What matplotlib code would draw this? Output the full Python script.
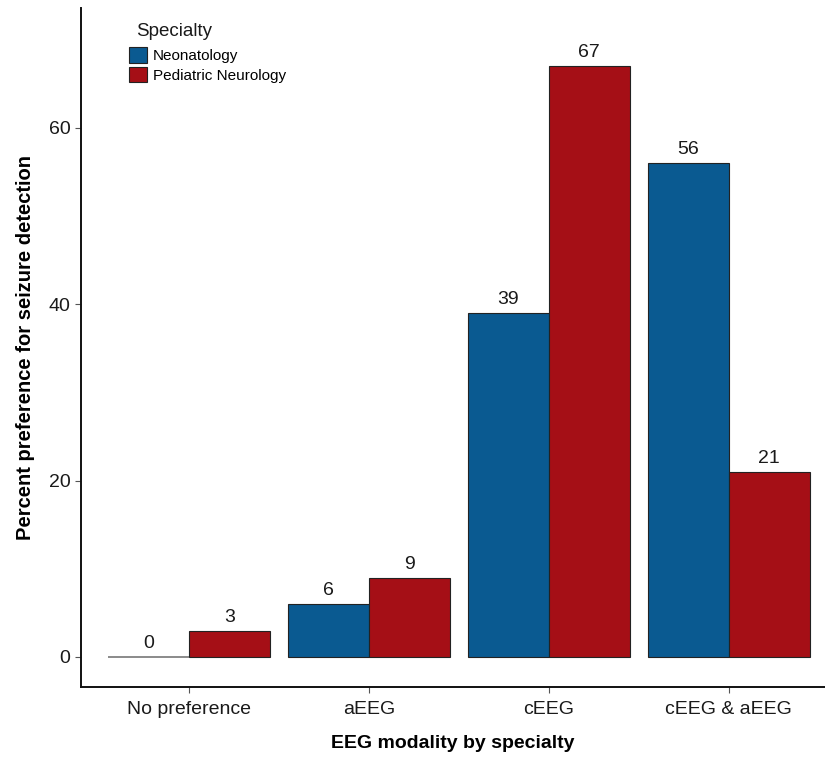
import matplotlib
matplotlib.use("Agg")
import matplotlib.pyplot as plt
import numpy as np
from matplotlib.patches import Patch

plt.rcParams['font.family'] = ['Liberation Sans', 'DejaVu Sans']

categories = ['No preference', 'aEEG', 'cEEG', 'cEEG & aEEG']
neonatology = [0, 6, 39, 56]
pediatric_neurology = [3, 9, 67, 21]
specialties = ['Neonatology', 'Pediatric Neurology']
colors = ['#0A5A91', '#A50F16']

fig = plt.figure(figsize=(8.25, 7.58), dpi=100)
ax = fig.add_axes([0.0982, 0.0937, 0.9018, 0.8957])

x = np.arange(len(categories))
w = 0.45
series = [neonatology, pediatric_neurology]
for i, vals in enumerate(series):
    pos = x + (i - 0.5) * w
    bars = ax.bar(pos, vals, width=w, color=colors[i], edgecolor='#222222', linewidth=0.8)
    for b, v in zip(bars, vals):
        if v == 0:
            b.set_edgecolor('#777777')
            b.set_linewidth(1.2)
        ax.text(b.get_x() + b.get_width() / 2, v + 0.55, str(v), ha='center', va='bottom',
                fontsize=14, color='#1a1a1a')

ax.set_xlim(-0.6, 3.535)
ax.set_ylim(-3.4, 73.6)
ax.set_yticks([0, 20, 40, 60])
ax.set_xticks(x)
ax.set_xticklabels(categories)
ax.tick_params(axis='both', labelsize=14, length=4, color='#555555', labelcolor='#1a1a1a')
ax.tick_params(axis='x', pad=6)
ax.spines['top'].set_visible(False)
ax.spines['right'].set_visible(False)
for s in ['left', 'bottom']:
    ax.spines[s].set_linewidth(1.4)
    ax.spines[s].set_color('#111111')

ax.set_xlabel('EEG modality by specialty', fontsize=14, fontweight='bold', labelpad=12)
ax.set_ylabel('Percent preference for seizure detection', fontsize=14.5, fontweight='bold', labelpad=10)

# legend, title drawn separately so it sits slightly indented like the original
ax.text(0.074, 0.9588, 'Specialty', transform=ax.transAxes, fontsize=13.5,
        color='#1a1a1a', ha='left', va='baseline')
handles = [Patch(facecolor=c, edgecolor='#222222', linewidth=0.8) for c in colors]
leg = ax.legend(handles, specialties, loc='upper left',
                bbox_to_anchor=(0.0645, 0.9426), frameon=False, fontsize=11,
                handlelength=1.2, handleheight=1.2,
                handletextpad=0.35, labelspacing=0.25, borderaxespad=0, borderpad=0)

fig.savefig('out.png', dpi=100)
